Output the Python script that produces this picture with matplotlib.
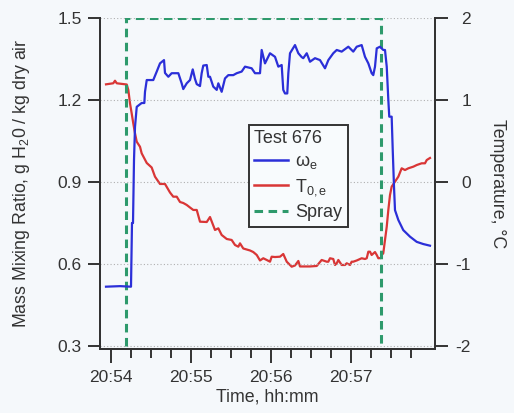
import matplotlib
matplotlib.use("Agg")
import matplotlib.pyplot as plt
import matplotlib.dates as mdates
from matplotlib.lines import Line2D
import pandas as pd

# ---- data (seconds after 20:54:00) ----
omega_t = [-3.75, 6.75, 15, 15.75, 16.5, 17.25, 18, 19.3, 23, 25, 25.5, 26.8, 31.7, 34.3, 36.75,
           39.75, 40.5, 43, 45.5, 50.5, 53, 54.2, 56.8, 59.25, 61.3, 63, 64.3, 66.75, 68, 69.2,
           71.8, 73, 74.25, 76.7, 79.3, 80.5, 83, 85.5, 88, 91.7, 94.3, 98, 100.5, 105.5, 108,
           111.75, 113, 115.5, 119.25, 123, 125.5, 128, 129.2, 130.5, 132.2, 133, 134.25, 138,
           140.5, 143, 144.2, 146.8, 149.25, 153, 156.75, 160.5, 163, 166.7, 169.3, 173, 178,
           181.7, 184.3, 188, 190.5, 193, 195.5, 196.7, 198, 199.3, 201.75, 204.2, 205.5, 206.8,
           208, 208.7, 210.5, 211.3, 212.25, 213, 215.5, 219.2, 224.25, 229.3, 234.2, 239.25]
omega_v = [0.517, 0.519, 0.517, 0.750, 0.750, 0.98, 1.101, 1.175, 1.189, 1.189, 1.230, 1.273, 1.273,
           1.304, 1.334, 1.346, 1.299, 1.285, 1.298, 1.298, 1.261, 1.240, 1.261, 1.273, 1.312,
           1.277, 1.258, 1.251, 1.298, 1.326, 1.328, 1.285, 1.285, 1.249, 1.237, 1.261, 1.230,
           1.279, 1.291, 1.291, 1.298, 1.304, 1.322, 1.316, 1.298, 1.298, 1.383, 1.334, 1.371,
           1.358, 1.322, 1.328, 1.237, 1.224, 1.224, 1.298, 1.371, 1.401, 1.371, 1.357, 1.353,
           1.371, 1.340, 1.353, 1.346, 1.316, 1.346, 1.371, 1.383, 1.377, 1.395, 1.377, 1.395,
           1.401, 1.358, 1.334, 1.298, 1.291, 1.322, 1.389, 1.395, 1.383, 1.383, 1.322, 1.200,
           1.139, 1.139, 1.017, 0.883, 0.797, 0.761, 0.724, 0.700, 0.681, 0.673, 0.667]

temp_t = [-3.75, 1.7, 3, 4.3, 11.8, 13, 14.25, 15.5, 16.7, 18, 19.3, 21.75, 23, 26.8, 30.5, 33,
          36.75, 40.5, 44.25, 46.7, 49.3, 51.75, 54.2, 56.8, 59.25, 61.7, 64.3, 66.75, 71.8, 74.25,
          78, 80.5, 83, 86.8, 90.5, 93, 95.5, 96.75, 99.2, 104.25, 106.7, 109.3, 111.75, 114.2,
          116.8, 119.25, 120.5, 123, 126.75, 129.2, 131.8, 134.25, 135.5, 138, 140.5, 141.75,
          149.25, 154.3, 158, 161.8, 163, 164.25, 166.7, 168, 169.3, 170.5, 173, 175.5, 176.8,
          179.25, 180.5, 181.7, 184.3, 188, 190.5, 191.8, 193, 194.25, 195.5, 198, 199.3, 200.5,
          202.3, 203, 204.2, 205.5, 206.8, 208, 209.25, 210.5, 213, 215.5, 218, 220.5, 223,
          226.75, 229.3, 233, 235.5, 236.8, 239.25]
temp_v = [1.191, 1.204, 1.235, 1.204, 1.189, 1.122, 0.960, 0.838, 0.716, 0.594, 0.491, 0.430, 0.350,
          0.232, 0.177, 0.065, -0.024, -0.024, -0.128, -0.179, -0.179, -0.244, -0.256, -0.280,
          -0.311, -0.341, -0.341, -0.484, -0.488, -0.427, -0.585, -0.565, -0.646, -0.695, -0.707,
          -0.768, -0.789, -0.748, -0.811, -0.835, -0.854, -0.890, -0.957, -0.930, -0.951, -0.972,
          -0.911, -0.915, -0.911, -0.878, -0.972, -1.012, -1.033, -1.018, -0.963, -1.030, -1.030,
          -1.024, -0.951, -0.972, -0.972, -0.930, -0.939, -1.012, -0.991, -0.951, -1.012, -1.012,
          -0.991, -1.012, -0.972, -0.972, -0.957, -0.930, -0.939, -0.930, -0.850, -0.850, -0.890,
          -0.854, -0.890, -0.930, -0.927, -0.890, -0.870, -0.707, -0.545, -0.341, -0.159, -0.057,
          0.004, 0.065, 0.167, 0.146, 0.167, 0.187, 0.207, 0.228, 0.228, 0.268, 0.293]

spray_t = [11, 11, 202.3, 202.3]
spray_v = [0.3, 1.5, 1.5, 0.3]

legend_title = "Test 676"
labels = [r"$\mathrm{\omega_e}$", r"$\mathrm{T_{0,e}}$", "Spray"]
left_ticks = [0.3, 0.6, 0.9, 1.2, 1.5]
left_ticklabels = ["0.3", "0.6", "0.9", "1.2", "1.5"]
right_ticks = [-2, -1, 0, 1, 2]
right_ticklabels = ["-2", "-1", "0", "1", "2"]
major_minutes = [54, 55, 56, 57]

# ---- styling ----
plt.rcParams["font.family"] = ["Liberation Sans", "DejaVu Sans"]
plt.rcParams["mathtext.fontset"] = "custom"
plt.rcParams["mathtext.rm"] = "Liberation Sans"
plt.rcParams["mathtext.it"] = "Liberation Sans:italic"
plt.rcParams["axes.unicode_minus"] = False

BG = "#f5f8fb"
TXT = "#333333"
BLUE = "#2b2fd8"
RED = "#d93636"
GREEN = "#2e9a6c"
DASH = (0, (2.8, 1.8))

base = pd.Timestamp("2000-01-01 20:54:00")
def to_time(sec):
    return base + pd.to_timedelta(sec, unit="s")

fig = plt.figure(figsize=(5.14, 4.13), dpi=100, facecolor=BG)
ax = fig.add_axes([100/514, (413-349)/413, 335/514, 331/413])
ax.set_facecolor(BG)

ylo = 0.3 - 3/273.3
ax.set_ylim(ylo, 1.5)
ax.set_xlim(to_time(-8.25), to_time(243))

for v in left_ticks:
    ax.axhline(v, color="#b0b0b0", lw=0.8, ls=(0, (1, 2)), zorder=1)

ax.plot(to_time(spray_t), spray_v, color=GREEN, lw=2.2, ls=DASH, zorder=2)
ax.plot(to_time(omega_t), omega_v, color=BLUE, lw=1.6, zorder=4)

ax2 = ax.twinx()
ax2.set_ylim((ylo - 0.9) / 0.3, 2)
ax2.plot(to_time(temp_t), temp_v, color=RED, lw=1.6, zorder=3)
ax.set_zorder(ax2.get_zorder() + 1)
ax.patch.set_visible(False)
ax2.set_facecolor(BG)

ax.set_yticks(left_ticks)
ax.set_yticklabels(left_ticklabels)
ax2.set_yticks(right_ticks)
ax2.set_yticklabels(right_ticklabels)

ax.xaxis.set_major_locator(mdates.MinuteLocator(byminute=major_minutes))
ax.xaxis.set_minor_locator(mdates.SecondLocator(bysecond=[15, 30, 45]))
ax.xaxis.set_major_formatter(mdates.DateFormatter("%H:%M"))

for a in (ax, ax2):
    a.spines["top"].set_visible(False)
    for s in a.spines.values():
        s.set_color(TXT)
        s.set_linewidth(1.4)

FS = 12.5
ax.tick_params(axis="y", which="major", length=8.6, width=1.4, color=TXT, labelcolor=TXT,
               labelsize=FS, pad=4.5)
ax.tick_params(axis="x", which="major", length=10, width=1.4, color=TXT, labelcolor=TXT,
               labelsize=FS, pad=5)
ax.tick_params(axis="x", which="minor", length=6.5, width=1.4, color=TXT)
ax2.tick_params(axis="y", which="major", length=9.4, width=1.4, color=TXT, labelcolor=TXT,
                labelsize=FS, pad=16.5)
for lab in ax2.get_yticklabels():
    lab.set_horizontalalignment("right")

ax.set_ylabel(r"Mass Mixing Ratio, g H$_\mathrm{2}$0 / kg dry air", fontsize=12.8, color=TXT,
              labelpad=18)
ax2.set_ylabel("Temperature, °C", fontsize=12.8, color=TXT, rotation=270, labelpad=25)
ax.set_xlabel("Time, hh:mm", fontsize=12.8, color=TXT, labelpad=3)

handles = [Line2D([], [], color=BLUE, lw=1.8),
           Line2D([], [], color=RED, lw=1.8),
           Line2D([], [], color=GREEN, lw=2.2, ls=DASH)]
leg = ax.legend(handles, labels, title=legend_title, loc="upper left",
                bbox_to_anchor=(0.445, 0.677), fontsize=13, title_fontsize=13,
                frameon=True, fancybox=False, edgecolor=TXT, facecolor="#f8fbfd",
                framealpha=1, handlelength=1.85, handletextpad=0.4, labelspacing=0.33,
                borderpad=0.3, borderaxespad=0, alignment="left")
leg.get_frame().set_linewidth(1.4)
for t in leg.get_texts():
    t.set_color(TXT)
leg.get_title().set_color(TXT)

fig.savefig("out.png", dpi=100, facecolor=BG)
